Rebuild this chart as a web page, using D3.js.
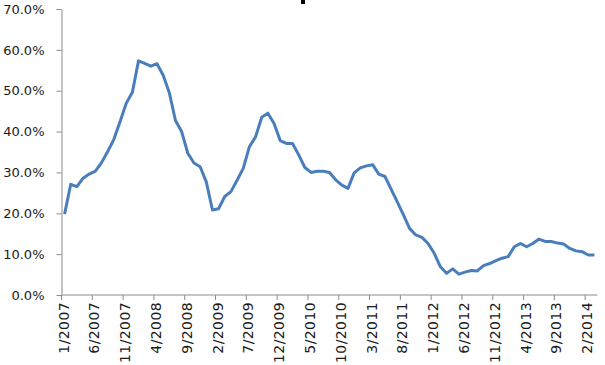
<!DOCTYPE html>
<html>
<head>
<meta charset="utf-8">
<script src="https://cdn.jsdelivr.net/npm/d3@7"></script>
<style>
	body { margin: 0; background: #fff; }
	svg { display: block; }
	.tick text { font-family: "DejaVu Sans", Verdana, sans-serif; font-size: 13px; fill: #1a1a1a; }
	.x-tick text { font-size: 14px; letter-spacing: 0.4px; }
	.domain, .tick line { stroke: #8c8c8c; }
</style>
</head>
<body>
<div class="c_chart"></div>
<script>
/*DATA
------------------------------------------------------
*/
// monthly values, 1/2007 -> 3/2014
const startYear = 2007;
const startMonth = 1;
const values = [
	19.8, 27.1, 26.5, 28.6, 29.6, 30.3, 32.4, 35.1, 38.1, 42.4, 46.9, 49.6,
	57.3, 56.7, 56.0, 56.6, 53.8, 49.5, 42.7, 40.0, 34.7, 32.3, 31.4, 27.7,
	20.8, 21.1, 24.1, 25.3, 28.1, 31.0, 36.3, 38.7, 43.5, 44.5, 42.0, 37.8,
	37.1, 37.1, 34.3, 31.2, 30.0, 30.3, 30.3, 30.0, 28.2, 26.9, 26.1, 29.9,
	31.1, 31.6, 31.9, 29.6, 29.0, 25.9, 22.8, 19.6, 16.3, 14.7, 14.1, 12.6,
	10.2, 6.9, 5.3, 6.4, 5.1, 5.6, 6.0, 5.9, 7.2, 7.7, 8.4, 9.0,
	9.4, 11.8, 12.6, 11.8, 12.6, 13.7, 13.1, 13.1, 12.7, 12.5, 11.4, 10.8,
	10.6, 9.8, 9.8
];
const yTicks = [0, 0.1, 0.2, 0.3, 0.4, 0.5, 0.6, 0.7];
const labelEvery = 5;

// month labels "m/yyyy"
const months = values.map((v, i) => {
	let m = startMonth - 1 + i;
	return `${(m % 12) + 1}/${startYear + Math.floor(m / 12)}`;
});

/*SVG
------------------------------------------------------
*/
let width = 605;
let height = 365;
const margin = {top: 9, right: 7.5, bottom: 70, left: 61.5};

let svg = d3.select(".c_chart")
	.append("svg")
	.attr("width", width)
	.attr("height", height);

let x = d3.scaleBand()
	.domain(months)
	.range([margin.left, width - margin.right])
	.padding(0);

let y = d3.scaleLinear()
	.domain([0, 0.7])
	.range([height - margin.bottom, margin.top]);

/*AXES
------------------------------------------------------
*/
// y axis
let yAxis = svg.append("g")
	.attr("transform", `translate(${margin.left},0)`)
	.call(d3.axisLeft(y)
		.tickValues(yTicks)
		.tickFormat(d3.format(".1%"))
		.tickSize(5)
		.tickSizeOuter(0)
		.tickPadding(12));

// x axis : tick marks on category boundaries, labels on category centres
let xAxis = svg.append("g")
	.attr("transform", `translate(0,${y(0)})`);

xAxis.append("path")
	.attr("class", "domain")
	.attr("d", `M${margin.left},0H${width - margin.right}`);

let xTickData = months.filter((d, i) => i % labelEvery === 0);

let xTick = xAxis.selectAll(".tick")
	.data(xTickData)
	.enter()
	.append("g")
	.attr("class", "tick x-tick");

xTick.append("line")
	.attr("x1", d => x(d))
	.attr("x2", d => x(d))
	.attr("y1", 0)
	.attr("y2", 5);

xTick.append("text")
	.attr("transform", d => `translate(${x(d) + x.bandwidth() / 2 + 4},7) rotate(-90)`)
	.attr("text-anchor", "end")
	.text(d => d);

/*LINE
------------------------------------------------------
*/
let line = d3.line()
	.x((d, i) => x(months[i]) + x.bandwidth() / 2)
	.y(d => y(d / 100));

svg.append("path")
	.datum(values)
	.attr("fill", "none")
	.attr("stroke", "#4a7ebb")
	.attr("stroke-width", 3)
	.attr("stroke-linejoin", "round")
	.attr("d", line);

// clipped title remnant at top edge
svg.append("rect")
	.attr("x", 301)
	.attr("y", 0)
	.attr("width", 4)
	.attr("height", 4)
	.attr("fill", "#000");
</script>
</body>
</html>
